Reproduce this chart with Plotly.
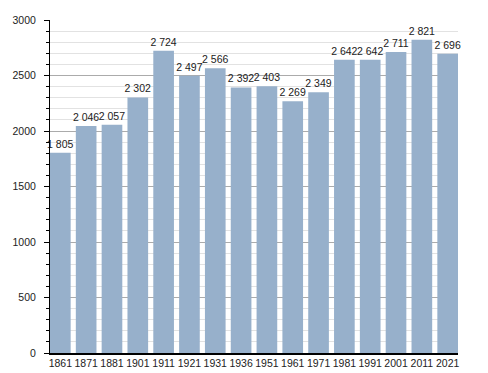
import plotly.graph_objects as go

years = ["1861", "1871", "1881", "1901", "1911", "1921", "1931", "1936",
         "1951", "1961", "1971", "1981", "1991", "2001", "2011", "2021"]
population = [1805, 2046, 2057, 2302, 2724, 2497, 2566, 2392,
              2403, 2269, 2349, 2642, 2642, 2711, 2821, 2696]
labels = [f"{v:,}".replace(",", " ") for v in population]

fig = go.Figure(go.Bar(
    x=years, y=population, text=labels, textposition="outside",
    constraintext="none", cliponaxis=False,
    textfont=dict(size=10.5, color="#222"),
    marker=dict(color="#97b0cb", line=dict(width=0)),
    hoverinfo="skip",
))

fig.update_layout(
    width=488, height=373,
    margin=dict(l=50, r=30, t=20, b=20, autoexpand=False),
    paper_bgcolor="white", plot_bgcolor="white",
    font=dict(family="Liberation Sans, Arial, sans-serif", size=10.5, color="#222"),
    bargap=0.2, showlegend=False,
)
fig.update_xaxes(
    type="category", range=[-0.4, 15.4], automargin=False,
    showline=True, linecolor="black", linewidth=1.5,
    showgrid=False, ticks="", ticklabelstandoff=0,
)
fig.update_yaxes(
    range=[0, 3000], dtick=500, tickformat="d", automargin=False,
    showline=True, linecolor="black", linewidth=1,
    ticks="outside", ticklen=5, tickcolor="black",
    gridcolor="#ababab", gridwidth=1,
    ticklabelstandoff=6, zeroline=False,
    minor=dict(dtick=100, ticks="outside", ticklen=3, tickcolor="black",
               showgrid=True, gridcolor="#e2e2e2", gridwidth=1),
)

fig.write_html("out.html", config={"displayModeBar": False},
               post_script="document.body.style.margin='0';document.body.style.overflow='hidden';")
